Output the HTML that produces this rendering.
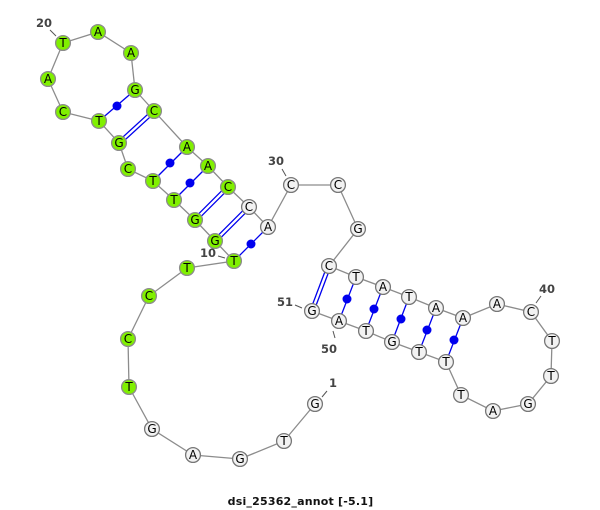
<!DOCTYPE html>
<html><head><meta charset="utf-8"><style>
html,body{margin:0;padding:0;background:#fff}
svg{display:block}
.p line{stroke:#0000ee;stroke-width:1.3}
.d circle{fill:#0000ee}
.g circle{fill:#80f000;stroke:#8c8c8c;stroke-width:1.3;r:7.4px}
.w circle{fill:#f2f2f2;stroke:#777;stroke-width:1.3;r:7.4px}
.n text{font:12px "DejaVu Sans",sans-serif;fill:#000;text-anchor:middle}
.l text{font:bold 11.5px "DejaVu Sans",sans-serif;fill:#444;text-anchor:middle}
.l line{stroke:#555;stroke-width:1}
</style></head><body>
<svg width="600" height="510" viewBox="0 0 600 510" xmlns="http://www.w3.org/2000/svg">
<polyline fill="none" stroke="#8c8c8c" stroke-width="1.3" points="315,404 284,441 240,459 193,455 152,429 129,387 128,339 149,296 187,268 234,261 215,241 195,220 174,200 153,181 128,169 119,143 99,121 63,112 48,79 63,43 98,32 131,53 135,90 154,111 187,147 208,166 228,187 249,207 268,227 291,185 338,185 358,229 329,266 356,277 383,287 409,297 436,308 463,318 497,304 531,312 552,341 551,376 528,404 493,411 461,395 446,362 419,352 392,342 366,331 339,321 312,311"/>
<g class="p">
<line x1="135" y1="90" x2="99" y2="121"/>
<line x1="155.2" y1="112.3" x2="120.2" y2="144.3"/><line x1="152.8" y1="109.7" x2="117.8" y2="141.7"/>
<line x1="187" y1="147" x2="153" y2="181"/>
<line x1="208" y1="166" x2="174" y2="200"/>
<line x1="229.2" y1="188.3" x2="196.2" y2="221.3"/><line x1="226.8" y1="185.7" x2="193.8" y2="218.7"/>
<line x1="250.2" y1="208.3" x2="216.2" y2="242.3"/><line x1="247.8" y1="205.7" x2="213.8" y2="239.7"/>
<line x1="268" y1="227" x2="234" y2="261"/>
<line x1="330.7" y1="266.6" x2="313.7" y2="311.6"/><line x1="327.3" y1="265.4" x2="310.3" y2="310.4"/>
<line x1="356" y1="277" x2="339" y2="321"/>
<line x1="383" y1="287" x2="366" y2="331"/>
<line x1="409" y1="297" x2="392" y2="342"/>
<line x1="436" y1="308" x2="419" y2="352"/>
<line x1="463" y1="318" x2="446" y2="362"/>
</g>
<g class="d">
<circle cx="117" cy="106" r="4.5"/><circle cx="170" cy="163" r="4.5"/><circle cx="190" cy="183" r="4.5"/><circle cx="251" cy="244" r="4.5"/>
<circle cx="347" cy="299" r="4.5"/><circle cx="374" cy="309" r="4.5"/><circle cx="401" cy="319" r="4.5"/><circle cx="427" cy="330" r="4.5"/><circle cx="454" cy="340" r="4.5"/>
</g>
<g class="g">
<circle cx="129" cy="387" r="7.4"/><circle cx="128" cy="339" r="7.4"/><circle cx="149" cy="296" r="7.4"/><circle cx="187" cy="268" r="7.4"/><circle cx="234" cy="261" r="7.4"/><circle cx="215" cy="241" r="7.4"/><circle cx="195" cy="220" r="7.4"/><circle cx="174" cy="200" r="7.4"/><circle cx="153" cy="181" r="7.4"/><circle cx="128" cy="169" r="7.4"/><circle cx="119" cy="143" r="7.4"/><circle cx="99" cy="121" r="7.4"/><circle cx="63" cy="112" r="7.4"/><circle cx="48" cy="79" r="7.4"/><circle cx="63" cy="43" r="7.4"/><circle cx="98" cy="32" r="7.4"/><circle cx="131" cy="53" r="7.4"/><circle cx="135" cy="90" r="7.4"/><circle cx="154" cy="111" r="7.4"/><circle cx="187" cy="147" r="7.4"/><circle cx="208" cy="166" r="7.4"/><circle cx="228" cy="187" r="7.4"/>
</g>
<g class="w">
<circle cx="315" cy="404" r="7.4"/><circle cx="284" cy="441" r="7.4"/><circle cx="240" cy="459" r="7.4"/><circle cx="193" cy="455" r="7.4"/><circle cx="152" cy="429" r="7.4"/><circle cx="249" cy="207" r="7.4"/><circle cx="268" cy="227" r="7.4"/><circle cx="291" cy="185" r="7.4"/><circle cx="338" cy="185" r="7.4"/><circle cx="358" cy="229" r="7.4"/><circle cx="329" cy="266" r="7.4"/><circle cx="356" cy="277" r="7.4"/><circle cx="383" cy="287" r="7.4"/><circle cx="409" cy="297" r="7.4"/><circle cx="436" cy="308" r="7.4"/><circle cx="463" cy="318" r="7.4"/><circle cx="497" cy="304" r="7.4"/><circle cx="531" cy="312" r="7.4"/><circle cx="552" cy="341" r="7.4"/><circle cx="551" cy="376" r="7.4"/><circle cx="528" cy="404" r="7.4"/><circle cx="493" cy="411" r="7.4"/><circle cx="461" cy="395" r="7.4"/><circle cx="446" cy="362" r="7.4"/><circle cx="419" cy="352" r="7.4"/><circle cx="392" cy="342" r="7.4"/><circle cx="366" cy="331" r="7.4"/><circle cx="339" cy="321" r="7.4"/><circle cx="312" cy="311" r="7.4"/>
</g>
<g class="n">
<text x="315" y="408">G</text><text x="284" y="445">T</text><text x="240" y="463">G</text><text x="193" y="459">A</text><text x="152" y="433">G</text><text x="129" y="391">T</text><text x="128" y="343">C</text><text x="149" y="300">C</text><text x="187" y="272">T</text><text x="234" y="265">T</text><text x="215" y="245">G</text><text x="195" y="224">G</text><text x="174" y="204">T</text><text x="153" y="185">T</text><text x="128" y="173">C</text><text x="119" y="147">G</text><text x="99" y="125">T</text><text x="63" y="116">C</text><text x="48" y="83">A</text><text x="63" y="47">T</text><text x="98" y="36">A</text><text x="131" y="57">A</text><text x="135" y="94">G</text><text x="154" y="115">C</text><text x="187" y="151">A</text><text x="208" y="170">A</text><text x="228" y="191">C</text><text x="249" y="211">C</text><text x="268" y="231">A</text><text x="291" y="189">C</text><text x="338" y="189">C</text><text x="358" y="233">G</text><text x="329" y="270">C</text><text x="356" y="281">T</text><text x="383" y="291">A</text><text x="409" y="301">T</text><text x="436" y="312">A</text><text x="463" y="322">A</text><text x="497" y="308">A</text><text x="531" y="316">C</text><text x="552" y="345">T</text><text x="551" y="380">T</text><text x="528" y="408">G</text><text x="493" y="415">A</text><text x="461" y="399">T</text><text x="446" y="366">T</text><text x="419" y="356">T</text><text x="392" y="346">G</text><text x="366" y="335">T</text><text x="339" y="325">A</text><text x="312" y="315">G</text>
</g>
<g class="l">
<line x1="322" y1="397" x2="327" y2="391"/><text x="333" y="387">1</text>
<line x1="50" y1="30" x2="56" y2="36"/><text x="44" y="27">20</text>
<line x1="218" y1="256" x2="225" y2="258"/><text x="208" y="257">10</text>
<line x1="282" y1="169" x2="286" y2="176"/><text x="276" y="165">30</text>
<line x1="536" y1="303" x2="541" y2="296"/><text x="547" y="293">40</text>
<line x1="295" y1="305" x2="302" y2="308"/><text x="285" y="306">51</text>
<line x1="333" y1="331" x2="335" y2="338"/><text x="329" y="353">50</text>
</g>
<text x="300.5" y="505" text-anchor="middle" style="font:bold 11px 'DejaVu Sans',sans-serif;fill:#111;letter-spacing:.2px">dsi_25362_annot [-5.1]</text>
</svg>
</body></html>
